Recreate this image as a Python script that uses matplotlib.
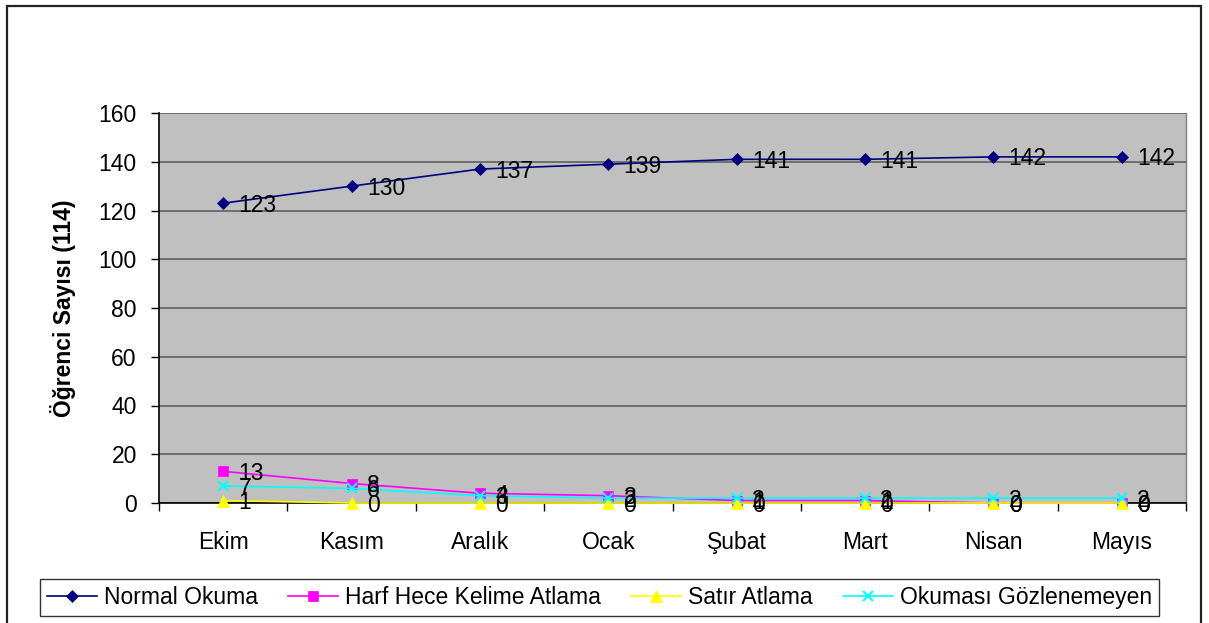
import matplotlib.pyplot as plt
from matplotlib.patches import Rectangle

plt.rcParams["font.family"] = ["Liberation Sans", "DejaVu Sans"]

# aylık okuma gözlemi (öğrenci sayısı)
months = ["Ekim", "Kasım", "Aralık", "Ocak", "Şubat", "Mart", "Nisan", "Mayıs"]
normal_okuma = [123, 130, 137, 139, 141, 141, 142, 142]
harf_hece_kelime = [13, 8, 4, 3, 1, 1, 0, 0]
satir_atlama = [1, 0, 0, 0, 0, 0, 0, 0]
gozlenemeyen = [7, 6, 3, 2, 2, 2, 2, 2]

SERIES = [
    ("Normal Okuma", normal_okuma, "#000080", "D", 6.5),
    ("Harf Hece Kelime Atlama", harf_hece_kelime, "#ff00ff", "s", 6.5),
    ("Satır Atlama", satir_atlama, "#ffff00", "^", 8),
    ("Okuması Gözlenemeyen", gozlenemeyen, "#00ffff", "x", 7),
]

FS = 16.5

fig = plt.figure(figsize=(12.09, 6.23), dpi=100)
fig.patch.set_facecolor("white")

# dış çerçeve
fig.patches.append(Rectangle((7 / 1209, -0.05), 1194 / 1209, 1 - 6 / 623 + 0.05,
                             transform=fig.transFigure, fill=False,
                             edgecolor="#222222", linewidth=1.6))

ax = fig.add_axes([159 / 1209, 1 - 503 / 623, 1027 / 1209, 390 / 623])
ax.set_facecolor("#c0c0c0")

x = list(range(len(months)))
for name, vals, color, marker, ms in SERIES:
    ax.plot(x, vals, color=color, marker=marker, markersize=ms, linewidth=1.2,
            markeredgewidth=1.5 if marker == "x" else 0.5,
            markeredgecolor=color, label=name, zorder=3, clip_on=False)
    for xi, v in zip(x, vals):
        ax.annotate(str(v), (xi, v), xytext=(11, -1.5), textcoords="offset points",
                    ha="left", va="center", fontsize=FS, color="black",
                    zorder=4, annotation_clip=False)

ax.set_xlim(-0.5, len(months) - 0.5)
ax.set_ylim(0, 160)
ax.set_yticks(range(0, 161, 20))
ax.yaxis.grid(True, color="#6e6e6e", linewidth=1.4, zorder=1)
ax.set_axisbelow(True)

# kategori sınırlarında tik, ortada etiket
ax.set_xticks([i - 0.5 for i in range(len(months) + 1)])
ax.set_xticklabels([])
ax.set_xticks(x, minor=True)
ax.set_xticklabels(months, minor=True)
ax.tick_params(axis="x", which="major", length=6, width=1, color="black", direction="out")
ax.tick_params(axis="x", which="minor", length=0, pad=20, labelsize=FS)
ax.tick_params(axis="y", length=6, width=1, color="black", direction="out",
               pad=10, labelsize=FS)

for side in ("left", "bottom"):
    ax.spines[side].set_color("black")
    ax.spines[side].set_linewidth(1.2)
ax.spines["top"].set_visible(False)
ax.spines["right"].set_color("#808080")
ax.spines["right"].set_linewidth(1)

ax.set_ylabel("Öğrenci Sayısı (114)", fontsize=FS, fontweight="bold", labelpad=16)

leg = fig.legend(loc="center", bbox_to_anchor=(599.5 / 1209, 1 - 597.5 / 623),
                 ncol=4, fontsize=FS, frameon=True, fancybox=False,
                 handlelength=2.2, handletextpad=0.3, columnspacing=1.3,
                 borderpad=0.3, borderaxespad=0)
leg.get_frame().set_edgecolor("black")
leg.get_frame().set_linewidth(1.0)

fig.savefig("out.png", dpi=100, facecolor="white")
